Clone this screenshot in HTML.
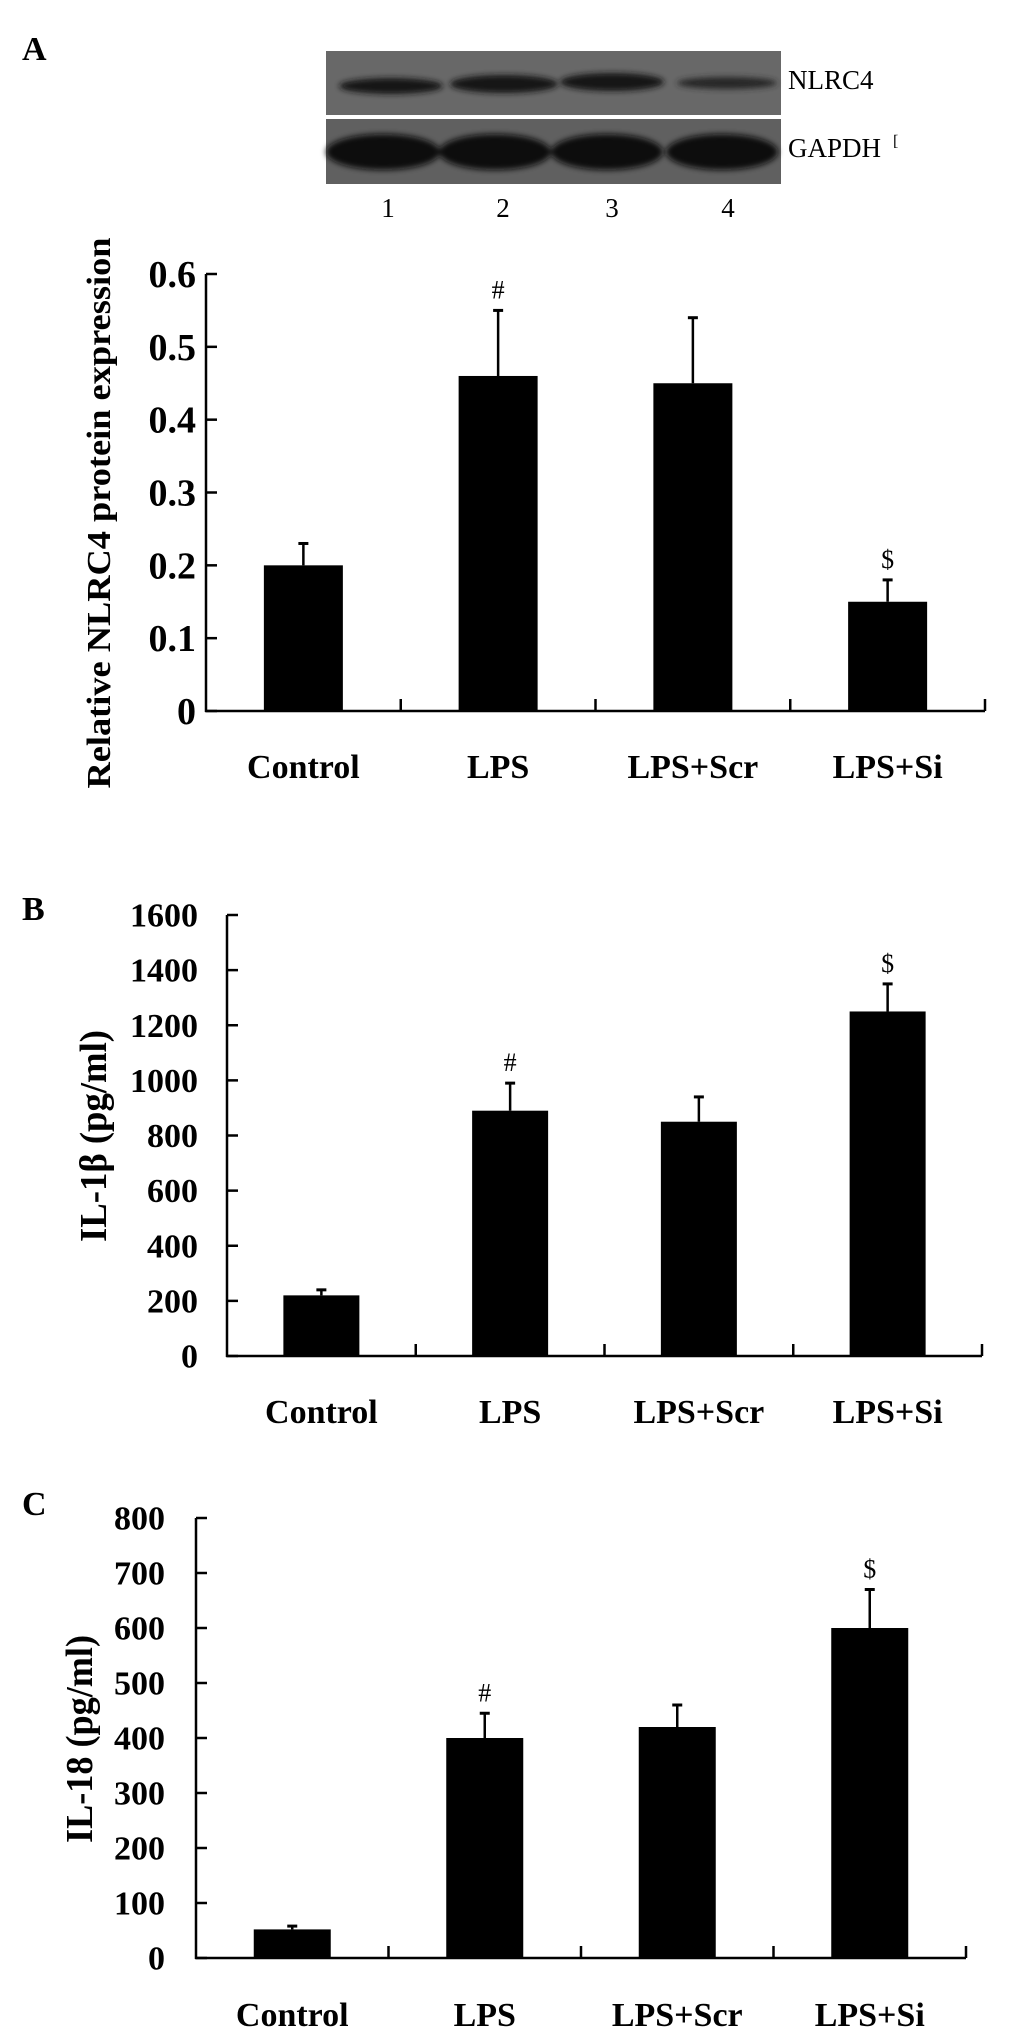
<!DOCTYPE html>
<html><head><meta charset="utf-8"><style>
html,body{margin:0;padding:0;background:#fff;}
svg{display:block;}
text{font-family:"Liberation Serif",serif;fill:#000;}
</style></head><body>
<svg id="fig" width="1033" height="2044" viewBox="0 0 1033 2044" xmlns="http://www.w3.org/2000/svg">
  <text x="22" y="60" font-size="34" font-weight="bold">A</text>
  <g>
    <defs>
      <filter id="blur" x="-20%" y="-50%" width="140%" height="200%"><feGaussianBlur stdDeviation="3"/></filter>
    </defs>
    <rect x="326" y="51" width="455" height="64" fill="#686868"/>
    <rect x="326" y="119" width="455" height="65" fill="#606060"/>
    <g filter="url(#blur)">
      <ellipse cx="391" cy="86" rx="52" ry="8" fill="#181818"/>
      <ellipse cx="504" cy="84" rx="54" ry="9" fill="#161616"/>
      <ellipse cx="612" cy="82" rx="52" ry="9" fill="#161616"/>
      <ellipse cx="727" cy="83" rx="50" ry="6" fill="#282828"/>
      <ellipse cx="383" cy="152" rx="57" ry="18" fill="#101010"/>
      <ellipse cx="495" cy="152" rx="56" ry="18" fill="#101010"/>
      <ellipse cx="607" cy="152" rx="56" ry="18" fill="#101010"/>
      <ellipse cx="722" cy="152" rx="56" ry="18" fill="#101010"/>
    </g>
    <text x="788" y="89" font-size="27">NLRC4</text>
    <text x="788" y="157" font-size="27">GAPDH</text>
    <text x="893" y="146" font-size="16">[</text>
    <text x="388" y="217" font-size="27" text-anchor="middle">1</text>
    <text x="503" y="217" font-size="27" text-anchor="middle">2</text>
    <text x="612" y="217" font-size="27" text-anchor="middle">3</text>
    <text x="728" y="217" font-size="27" text-anchor="middle">4</text>
  </g>
  <text x="22" y="920" font-size="34" font-weight="bold">B</text>
  <text x="22" y="1515" font-size="34" font-weight="bold">C</text>
</svg>
<script>
const categories = ["Control", "LPS", "LPS+Scr", "LPS+Si"];
const nlrc4Values = [0.20, 0.46, 0.45, 0.15];
const nlrc4Errors = [0.03, 0.09, 0.09, 0.03];
const nlrc4Marks = ["", "#", "", "$"];
const nlrc4Ticks = ["0", "0.1", "0.2", "0.3", "0.4", "0.5", "0.6"];
const il1bValues = [220, 890, 850, 1250];
const il1bErrors = [20, 100, 90, 100];
const il1bMarks = ["", "#", "", "$"];
const il1bTicks = ["0", "200", "400", "600", "800", "1000", "1200", "1400", "1600"];
const il18Values = [52, 400, 420, 600];
const il18Errors = [6, 45, 40, 70];
const il18Marks = ["", "#", "", "$"];
const il18Ticks = ["0", "100", "200", "300", "400", "500", "600", "700", "800"];

const NS = "http://www.w3.org/2000/svg";
const svg = document.getElementById("fig");
function mk(tag, attrs, parent) {
  const e = document.createElementNS(NS, tag);
  for (const k in attrs) e.setAttribute(k, attrs[k]);
  parent.appendChild(e);
  return e;
}

function drawChart(cfg, values, errors, marks, ticks) {
  const g = mk("g", {}, svg);
  
  
  const maxV = parseFloat(ticks[ticks.length - 1]);
  const y = v => cfg.y0 - (v / maxV) * (cfg.y0 - cfg.yTop);
  const catW = (cfg.x1 - cfg.x0) / categories.length;
  const xc = i => cfg.x0 + catW * (i + 0.5);
  const ya = mk("line", {x1: cfg.x0, y1: cfg.yTop, x2: cfg.x0, y2: cfg.y0 + 1, stroke: "#000", "stroke-width": 2.5}, g);
  
  
  const xa = mk("line", {x1: cfg.x0 - 1, y1: cfg.y0, x2: cfg.x1, y2: cfg.y0, stroke: "#000", "stroke-width": 2.5}, g);
  
  
  ticks.forEach(t => {
    const ty = y(parseFloat(t));
    const tl = mk("line", {x1: cfg.x0, y1: ty, x2: cfg.x0 + 11, y2: ty, stroke: "#000", "stroke-width": 2.5}, g);
    
    
    const tx = mk("text", {x: cfg.x0 - cfg.labelGap, y: ty + cfg.tickFont * 0.34, "font-size": cfg.tickFont, "font-weight": "bold", "text-anchor": "end"}, g);
    tx.textContent = t;
    
    
  });
  categories.forEach((c, i) => {
    const cx = xc(i);
    const tk = mk("line", {x1: cfg.x0 + catW * (i + 1), y1: cfg.y0, x2: cfg.x0 + catW * (i + 1), y2: cfg.y0 - 12, stroke: "#000", "stroke-width": 2.5}, g);
    
    
    const top = y(values[i]);
    const bar = mk("rect", {x: cx - cfg.barW / 2, y: top, width: cfg.barW, height: cfg.y0 - top, fill: "#000"}, g);
    
    
    const et = y(values[i] + errors[i]);
    const el = mk("line", {x1: cx, y1: top, x2: cx, y2: et, stroke: "#000", "stroke-width": 2.5}, g);
    
    
    const ec = mk("line", {x1: cx - 5, y1: et, x2: cx + 5, y2: et, stroke: "#000", "stroke-width": 3}, g);
    
    
    if (marks[i]) {
      const m = mk("text", {x: cx, y: et - 12, "font-size": 26, "text-anchor": "middle"}, g);
      m.textContent = marks[i];
      
      
    }
    const cl = mk("text", {x: cx, y: cfg.catY, "font-size": 34, "font-weight": "bold", "text-anchor": "middle"}, g);
    cl.textContent = c;
    
    
  });
  const tt = mk("text", {x: 0, y: 0, "font-size": cfg.titleFont, "font-weight": "bold", "text-anchor": "middle",
    transform: "translate(" + cfg.titleX + "," + cfg.titleY + ") rotate(-90)",
    textLength: cfg.titleLen, lengthAdjust: "spacingAndGlyphs"}, g);
  tt.textContent = cfg.title;
  
  
}

drawChart({name: "chart-a-nlrc4", x0: 206, x1: 985, y0: 711, yTop: 274, barW: 79, catY: 778, tickFont: 38, labelGap: 10,
  title: "Relative NLRC4 protein expression", titleX: 110, titleY: 513, titleLen: 551, titleFont: 34},
  nlrc4Values, nlrc4Errors, nlrc4Marks, nlrc4Ticks);
drawChart({name: "chart-b-il1b", x0: 227, x1: 982, y0: 1356, yTop: 915, barW: 76, catY: 1423, tickFont: 34, labelGap: 29,
  title: "IL-1β (pg/ml)", titleX: 106, titleY: 1136, titleLen: 212, titleFont: 38},
  il1bValues, il1bErrors, il1bMarks, il1bTicks);
drawChart({name: "chart-c-il18", x0: 196, x1: 966, y0: 1958, yTop: 1518, barW: 77, catY: 2026, tickFont: 34, labelGap: 31,
  title: "IL-18 (pg/ml)", titleX: 92, titleY: 1739, titleLen: 208, titleFont: 38},
  il18Values, il18Errors, il18Marks, il18Ticks);
</script>
</body></html>
